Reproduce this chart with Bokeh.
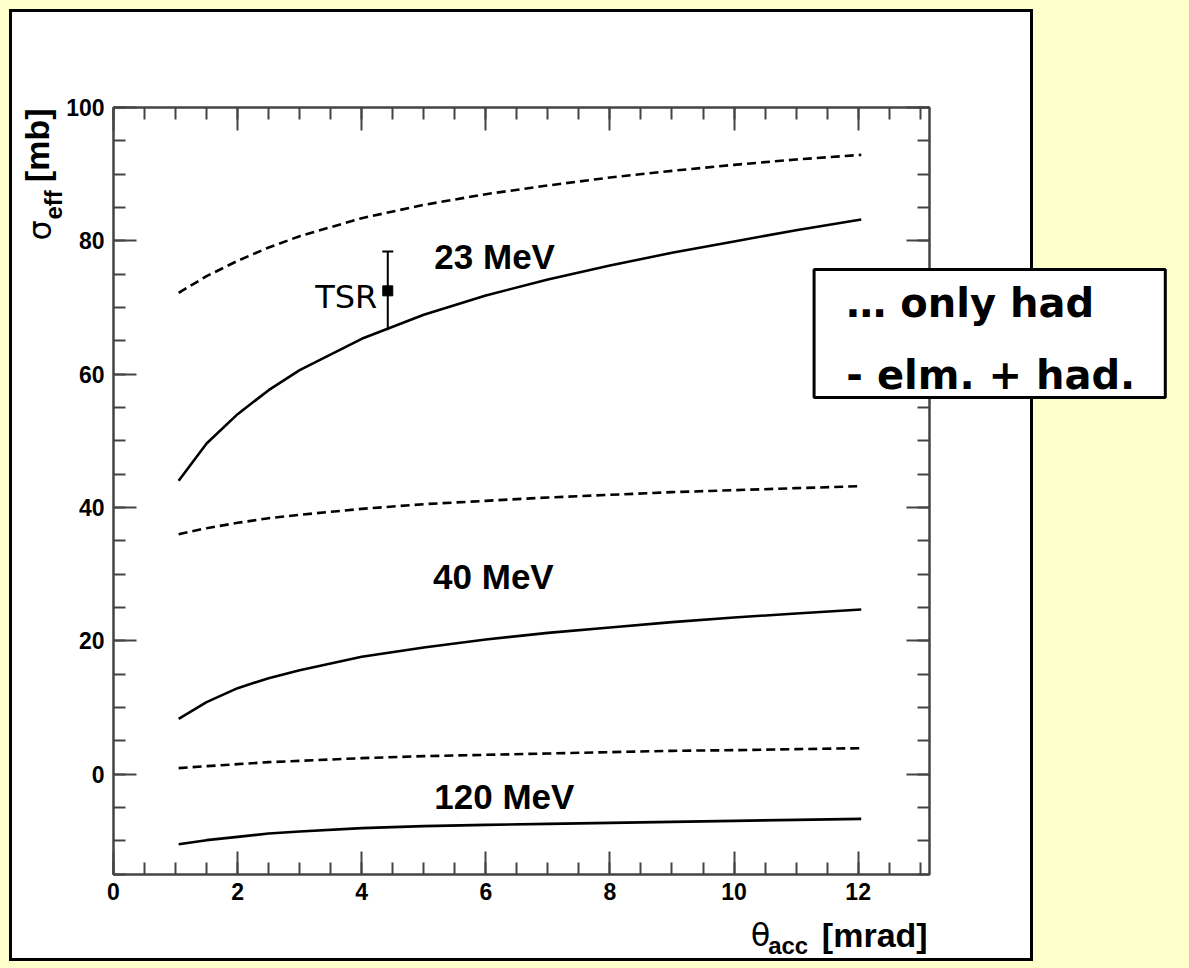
from bokeh.plotting import figure
from bokeh.models import (Range1d, LinearAxis, SingleIntervalTicker, Label, ColumnDataSource,
                          Whisker, TeeHead, CustomJSTickFormatter)
from bokeh.core.properties import value
from bokeh.embed import file_html
from bokeh.resources import INLINE
import math

# ---------------- data ----------------
theta = [1.05, 1.5, 2, 2.5, 3, 4, 5, 6, 7, 8, 9, 10, 11, 12.05]
only_had_23 = [72.2, 74.7, 77.0, 79.0, 80.7, 83.4, 85.4, 87.0, 88.3, 89.5, 90.5, 91.4, 92.2, 92.9]
elm_had_23 = [44.0, 49.6, 54.0, 57.6, 60.6, 65.3, 68.9, 71.8, 74.2, 76.3, 78.2, 79.9, 81.6, 83.2]
only_had_40 = [36.0, 36.9, 37.7, 38.4, 38.9, 39.8, 40.5, 41.0, 41.5, 41.9, 42.3, 42.6, 42.9, 43.2]
elm_had_40 = [8.3, 10.8, 12.9, 14.4, 15.6, 17.6, 19.0, 20.2, 21.2, 22.0, 22.8, 23.5, 24.1, 24.7]
only_had_120 = [0.9, 1.2, 1.5, 1.8, 2.0, 2.4, 2.7, 2.9, 3.1, 3.3, 3.5, 3.6, 3.75, 3.9]
elm_had_120 = [-10.5, -9.9, -9.4, -8.9, -8.6, -8.1, -7.8, -7.6, -7.45, -7.3, -7.15, -7.0, -6.85, -6.7]

energy_labels = ["23 MeV", "40 MeV", "120 MeV"]
energy_label_x = [5.17, 5.15, 5.17]
energy_label_y = [77.6, 29.6, -3.4]

tsr_x = [4.42]
tsr_y = [72.5]
tsr_lo = [66.6]
tsr_hi = [78.4]

legend_lines = ["\u2026 only had", "- elm. + had."]

x_title = ["\u03b8", "acc", "[mrad]"]
y_title = ["\u03c3", "eff", "[mb]"]

x_ticks_major = 2
y_ticks_major = 20

# ---------------- figure ----------------
p = figure(width=1189, height=968, x_range=Range1d(0, 13.15), y_range=Range1d(-15.05, 100),
           output_backend="svg", toolbar_location=None,
           min_border_left=113, min_border_right=260, min_border_top=107, min_border_bottom=94,
           border_fill_color=None, background_fill_color="white")
p.styles = {"background": "linear-gradient(#fff,#fff) 12px 12px / 1018px 946px no-repeat, "
                          "linear-gradient(#000,#000) 9px 9px / 1024px 952px no-repeat, #FFFFCC"}
p.grid.visible = False
p.outline_line_color = "#444444"
p.outline_line_width = 2

xt = SingleIntervalTicker(interval=x_ticks_major, num_minor_ticks=4)
yt = SingleIntervalTicker(interval=y_ticks_major, num_minor_ticks=4)
p.xaxis.ticker = xt
p.yaxis.ticker = yt

def style_axis(ax, labels=True):
    ax.axis_line_color = "#444444"
    ax.axis_line_width = 2
    ax.major_tick_line_color = "#444444"
    ax.minor_tick_line_color = "#444444"
    ax.major_tick_line_width = 2
    ax.minor_tick_line_width = 2
    ax.major_tick_in = 23
    ax.major_tick_out = 0
    ax.minor_tick_in = 12
    ax.minor_tick_out = 0
    ax.major_label_text_font = "Liberation Sans"
    ax.major_label_text_font_style = "bold"
    ax.major_label_text_font_size = "23px"
    ax.major_label_text_color = "black"
    if not labels:
        ax.formatter = CustomJSTickFormatter(code="return ''")

style_axis(p.xaxis[0])
style_axis(p.yaxis[0])
p.xaxis[0].major_label_standoff = 8
p.yaxis[0].major_label_standoff = 9

top_ax = LinearAxis(ticker=xt)
right_ax = LinearAxis(ticker=yt)
style_axis(top_ax, labels=False)
style_axis(right_ax, labels=False)
p.add_layout(top_ax, "above")
p.add_layout(right_ax, "right")

# ---------------- curves ----------------
dash = "9 5"
lw = 2.6
p.line(theta, only_had_23, line_color="black", line_width=lw, line_dash=dash)
p.line(theta, elm_had_23, line_color="black", line_width=lw)
p.line(theta, only_had_40, line_color="black", line_width=lw, line_dash=dash)
p.line(theta, elm_had_40, line_color="black", line_width=lw)
p.line(theta, only_had_120, line_color="black", line_width=lw, line_dash=dash)
p.line(theta, elm_had_120, line_color="black", line_width=lw)

# TSR point
src = ColumnDataSource(dict(x=tsr_x, y=tsr_y, lo=tsr_lo, hi=tsr_hi))
p.add_layout(Whisker(source=src, base="x", lower="lo", upper="hi", line_color="black", line_width=2,
                     upper_head=TeeHead(size=11, line_color="black", line_width=2), lower_head=None))
p.scatter("x", "y", source=src, marker="square", size=10, color="black")
p.add_layout(Label(x=tsr_x[0] - 0.17, y=71.6, text="TSR", text_align="right", text_baseline="middle",
                   text_font="DejaVu Sans", text_font_size="32px", text_color="black"))

# energy labels
for t, lx, ly in zip(energy_labels, energy_label_x, energy_label_y):
    p.add_layout(Label(x=lx, y=ly, text=t, text_align="left", text_baseline="middle",
                       text_font="Liberation Sans", text_font_style="bold", text_font_size="35px",
                       text_color="black"))

# ---------------- texts outside the frame (overlay-level glyphs are not clipped) ----------------
def otext(x, y, t, font, size, style="normal", align="left", angle=0.0):
    p.text(x=[x], y=[y], text=[t], angle=angle, text_font=value(font), text_font_size=value(size),
           text_font_style=style, text_align=align, text_baseline="middle", text_color="black",
           level="overlay")

# x title
otext(10.27, -24.1, x_title[0], "DejaVu Sans", "32px")
otext(10.55, -25.7, x_title[1], "Liberation Sans", "24px", "bold")
otext(13.12, -24.1, x_title[2], "Liberation Sans", "34px", "bold", align="right")
# y title (rotated)
otext(-1.18, 83.1, y_title[0], "DejaVu Sans", "32px", align="right", angle=math.pi / 2)
otext(-0.97, 87.6, y_title[1], "Liberation Sans", "24px", "bold", align="right", angle=math.pi / 2)
otext(-1.24, 99.85, y_title[2], "Liberation Sans", "34px", "bold", align="right", angle=math.pi / 2)

# legend box
p.quad(left=[11.29], right=[16.95], top=[75.7], bottom=[56.5], fill_color="white",
       line_color="black", line_width=3, level="annotation")
otext(11.81, 70.75, legend_lines[0], "DejaVu Sans", "40px", "bold")
otext(11.81, 59.95, legend_lines[1], "DejaVu Sans", "40px", "bold")

open("out.html", "w").write(file_html(p, INLINE))
